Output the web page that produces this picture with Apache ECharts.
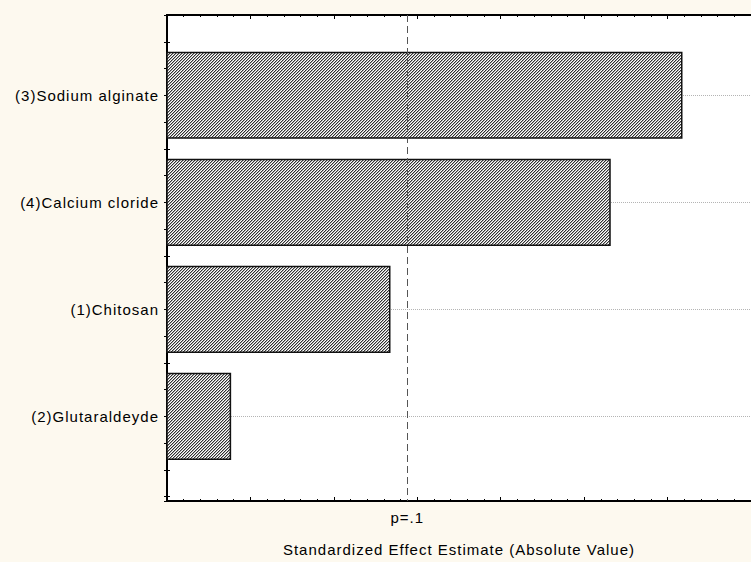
<!DOCTYPE html>
<html><head><meta charset="utf-8">
<script src="https://cdn.jsdelivr.net/npm/echarts@6/dist/echarts.min.js"></script>
<style>
html,body{margin:0;padding:0;background:#fdf9ef;}
#c{width:751px;height:562px;letter-spacing:1px;}
</style></head><body><div id="c"></div>
<script>
// ---- data ----
const categories = ['(3)Sodium alginate', '(4)Calcium cloride', '(1)Chitosan', '(2)Glutaraldeyde'];
const effects = [6.17, 5.31, 2.67, 0.76];
const pCritical = 2.88;
const pLabel = 'p=.1';
const xTitle = 'Standardized Effect Estimate (Absolute Value)';

// ---- hatch pattern ----
const pc = document.createElement('canvas');
pc.width = 3; pc.height = 3;
const pctx = pc.getContext('2d');
const shades = ['#303030', '#ababab', '#ffffff'];
for (let y = 0; y < 3; y++) for (let x = 0; x < 3; x++) {
  pctx.fillStyle = shades[(x + y) % 3];
  pctx.fillRect(x, y, 1, 1);
}
const hatch = { image: pc.toDataURL(), repeat: 'repeat', imageWidth: 3, imageHeight: 3 };

const font = { fontFamily: 'Liberation Sans', fontSize: 15, color: '#000' };
const chart = echarts.init(document.getElementById('c'), null, { renderer: 'svg' });

const yCommon = {
  type: 'value', min: 0.25, max: 4.79, interval: 0.25, inverse: true,
  axisLine: { show: true, lineStyle: { color: '#000', width: 2 } },
  axisTick: { show: true, inside: true, length: 3, lineStyle: { color: '#000', width: 1 } },
};
const xCommon = {
  type: 'value', min: 0, max: 7, interval: 1,
  axisLine: { show: true, lineStyle: { color: '#000', width: 2 } },
  axisTick: { show: true, inside: true, length: 4, lineStyle: { color: '#000', width: 1 } },
  minorTick: { show: true, splitNumber: 5, length: 2, lineStyle: { color: '#000', width: 1 } },
  axisLabel: { show: false },
  splitLine: { show: false },
  minorSplitLine: { show: false }
};

chart.setOption({
  backgroundColor: '#fdf9ef',
  animation: false,
  grid: { left: 167, top: 15, right: -1, bottom: 57, show: true, backgroundColor: '#ffffff', borderWidth: 0 },
  xAxis: [
    Object.assign({}, xCommon, {
      position: 'bottom',
      name: xTitle, nameLocation: 'middle', nameGap: 41,
      nameTextStyle: font
    }),
    Object.assign({}, xCommon, { position: 'top' })
  ],
  yAxis: [
    Object.assign({}, yCommon, {
      position: 'left',
      axisLabel: {
        show: true, margin: 8, ...font,
        formatter: v => Number.isInteger(v) ? categories[v - 1] : ''
      },
      splitLine: {
        show: true,
        lineStyle: { color: ['rgba(0,0,0,0)', 'rgba(0,0,0,0)', 'rgba(0,0,0,0)', '#b4b4b4'], type: 'dotted', width: 1 }
      }
    }),
    Object.assign({}, yCommon, { position: 'right', axisLabel: { show: false }, splitLine: { show: false } })
  ],
  series: [{
    type: 'custom',
    xAxisIndex: 0, yAxisIndex: 0,
    data: effects.map((v, i) => [v, i + 1]),
    encode: { x: 0, y: 1 },
    renderItem: function (params, api) {
      const p0 = api.coord([0, api.value(1)]);
      const p1 = api.coord([api.value(0), api.value(1)]);
      const h = api.size([0, 0.8])[1];
      return {
        type: 'rect',
        shape: { x: p0[0], y: p0[1] - h / 2, width: p1[0] - p0[0], height: h },
        style: { fill: hatch, stroke: '#111', lineWidth: 1.5 }
      };
    },
    markLine: {
      silent: true, symbol: 'none', animation: false,
      lineStyle: { color: '#555', type: [7, 4], width: 1 },
      label: { show: true, position: 'end', distance: 9, formatter: pLabel, ...font },
      data: [{ xAxis: pCritical }]
    }
  }]
});
</script></body></html>
